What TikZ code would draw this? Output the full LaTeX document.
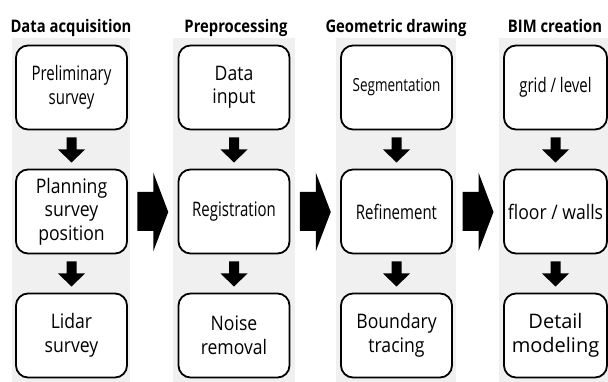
\documentclass[tikz,border=0pt]{standalone}
\usepackage{fontspec}
\usetikzlibrary{calc}
\setmainfont{Open Sans}
\newfontfamily\narrowfont{Open Sans}[FakeStretch=0.75]
\newfontfamily\widefont{Open Sans}[FakeStretch=0.88]
\newfontfamily\titlefont{Open Sans}[FakeStretch=0.855]
\begin{document}
\begin{tikzpicture}[x=1pt,y=-1pt,
  band/.style={fill=bandgray,draw=none},
  stepbox/.style={draw=black,line width=1.8pt,rounded corners=12pt,fill=white,
    minimum width=111pt,minimum height=84pt,align=center,inner sep=0pt,
    font=\narrowfont\fontsize{20}{23.5}\selectfont},
  widebox/.style={stepbox,font=\widefont\fontsize{20}{23.5}\selectfont},
  fullbox/.style={stepbox,font=\rmfamily\fontsize{20}{23.5}\selectfont},
  head/.style={font=\titlefont\bfseries\fontsize{17.3}{20}\selectfont,anchor=base},
  downarrow/.style={fill=black,draw=none},
  bigarrow/.style={fill=black,draw=none}]
\definecolor{bandgray}{HTML}{F0F0F0}
\useasboundingbox (0,0) rectangle (608,382);
\fill[white] (0,0) rectangle (608,382);

% column backgrounds
\fill[band] (12,38) rectangle (130,382);
\fill[band] (173,38) rectangle (295,382);
\fill[band] (336,38) rectangle (456,382);
\fill[band] (499,38) rectangle (608,382);

% column titles
\node[head] (t1) at (71,33) {Data acquisition};
\node[head] (t2) at (236,33) {Preprocessing};
\node[head] (t3) at (396,33) {Geometric drawing};
\node[head] (t4) at (555,33) {BIM creation};

% column 1
\node[stepbox] (a1) at (71.5,87.5) {Preliminary\\survey};
\node[widebox] (a2) at (71.5,211.5) {Planning\\survey\\position};
\node[widebox] (a3) at (71.5,335.5) {Lidar\\survey};
% column 2
\node[widebox] (b1) at (234,87.5) {Data\\input};
\node[stepbox] (b2) at (234,211.5) {Registration};
\node[widebox] (b3) at (234,335.5) {Noise\\removal};
% column 3
\node[stepbox,font=\narrowfont\fontsize{18}{21}\selectfont] (c1) at (396.5,87.5) {Segmentation};
\node[stepbox] (c2) at (396.5,211.5) {Refinement};
\node[widebox] (c3) at (396.5,335.5) {Boundary\\tracing};
% column 4
\node[stepbox,minimum width=103pt] (d1) at (555.5,87.5) {grid / level};
\node[widebox,minimum width=103pt] (d2) at (555.5,211.5) {floor / walls};
\node[fullbox,minimum width=103pt] (d3) at (555.5,335.5) {Detail\\modeling};

% block arrows between steps of a column
\foreach \u/\v in {a1/a2,a2/a3,b1/b2,b2/b3,c1/c2,c2/c3,d1/d2,d2/d3}{
  \path ($(\u.south)!0.5!(\v.north)$) coordinate (m);
  \fill[downarrow] ([shift={(-5,-12)}]m) -- ([shift={(5,-12)}]m)
    -- ([shift={(5,0)}]m) -- ([shift={(13.5,0)}]m) -- ([shift={(0,13)}]m)
    -- ([shift={(-13.5,0)}]m) -- ([shift={(-5,0)}]m) -- cycle;
}

% block arrows between columns
\foreach \u/\v in {a2/b2,b2/c2,c2/d2}{
  \path ($(\u.east)!0.5!(\v.west)$) coordinate (m);
  \fill[bigarrow] ([shift={(-15.5,-19.5)}]m) -- ([shift={(0.5,-19.5)}]m)
    -- ([shift={(0.5,-39)}]m) -- ([shift={(15.5,0.5)}]m) -- ([shift={(0.5,40)}]m)
    -- ([shift={(0.5,19.5)}]m) -- ([shift={(-15.5,19.5)}]m) -- cycle;
}
\end{tikzpicture}
\end{document}
